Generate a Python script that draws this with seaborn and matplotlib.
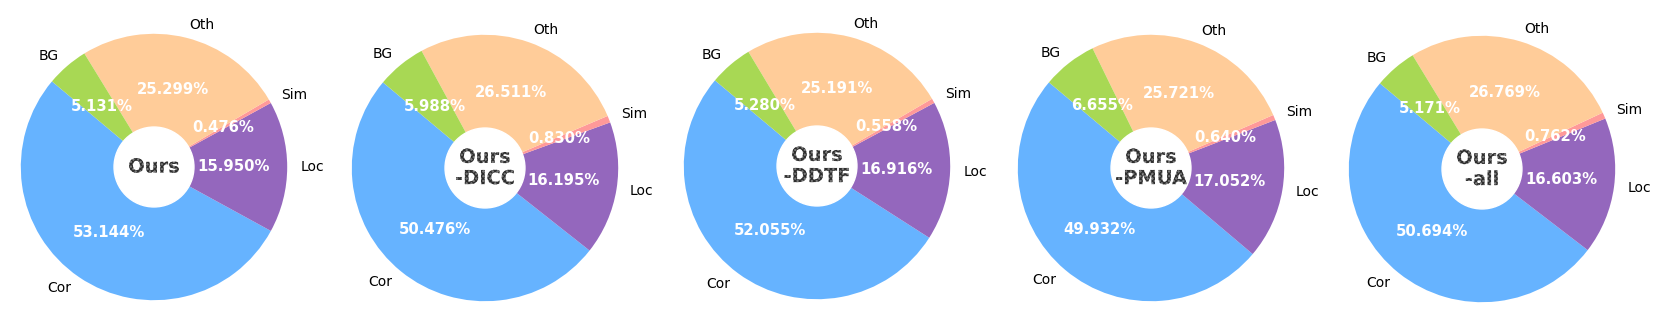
import matplotlib
matplotlib.use("Agg")
import matplotlib.pyplot as plt
import matplotlib.patheffects as pe
import seaborn as sns

sns.set_style("white")
plt.rcParams['font.family'] = ['DejaVu Sans']
plt.rcParams['text.color'] = 'black'
plt.rcParams['hatch.linewidth'] = 0.9

categories = ["Cor", "Loc", "Sim", "Oth", "BG"]
titles = ["Ours", "Ours\n-DICC", "Ours\n-DDTF", "Ours\n-PMUA", "Ours\n-all"]
ours = [53.144, 15.950, 0.476, 25.299, 5.131]
ours_dicc = [50.476, 16.195, 0.830, 26.511, 5.988]
ours_ddtf = [52.055, 16.916, 0.558, 25.191, 5.280]
ours_pmua = [49.932, 17.052, 0.640, 25.721, 6.655]
ours_all = [50.694, 16.603, 0.762, 26.769, 5.171]
series = [ours, ours_dicc, ours_ddtf, ours_pmua, ours_all]

colors = ["#66b3ff", "#9467bd", "#ff9999", "#ffcc99", "#a8d854"]

W, H = 1660, 336
fig = plt.figure(figsize=(W / 100, H / 100), dpi=100)
size = 333
centers_x = [154, 485, 817, 1151, 1482]
centers_y = [169, 168, 170, 168, 167]
for k, (vals, title) in enumerate(zip(series, titles)):
    cy = centers_y[k]
    ax = fig.add_axes([(centers_x[k] - size / 2) / W, (cy - size / 2) / H, size / W, size / H])
    total = sum(vals)
    wedges, texts, autotexts = ax.pie(
        vals, labels=categories, colors=colors, startangle=140,
        autopct=lambda p, t=total: f"{p * t / 100:.3f}%", pctdistance=0.6,
        labeldistance=1.1, textprops={"fontsize": 10, "color": "black"},
        wedgeprops={"linewidth": 0, "edgecolor": "none"},
    )
    for at in autotexts:
        at.set_color("white")
        at.set_fontweight("bold")
        at.set_fontsize(10.7)
    ax.add_artist(plt.Circle((0, 0), 0.3, color="white"))
    t = ax.text(0, 0, title, ha="center", va="center", fontsize=14, fontweight="bold",
                color="#666666", linespacing=1.15)
    t.set_path_effects([pe.PathPatchEffect(hatch="xxxxxxx", facecolor="#7a7a7a",
                                           edgecolor="#2e2e2e", linewidth=0)])
    ax.set_xlim(-1.25, 1.25)
    ax.set_ylim(-1.25, 1.25)
    ax.set_aspect("equal")

fig.savefig("out.png", dpi=100)
